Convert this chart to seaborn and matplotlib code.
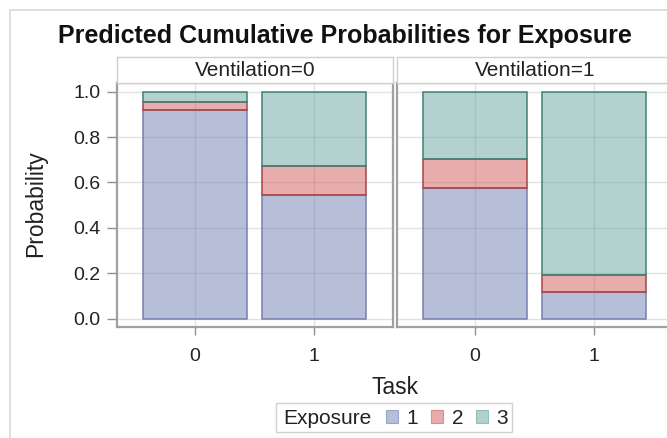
import matplotlib
matplotlib.use("Agg")
import matplotlib.pyplot as plt
from matplotlib.patches import Rectangle, Patch
import seaborn as sns
import pandas as pd
import numpy as np

# ---- data ----
tasks = ["0", "1"]
ventilation_levels = ["Ventilation=0", "Ventilation=1"]
exposure_levels = ["1", "2", "3"]
# cumulative probabilities P(Exposure<=k)
cum1_vent0 = [0.919, 0.546]
cum2_vent0 = [0.954, 0.673]
cum1_vent1 = [0.577, 0.119]
cum2_vent1 = [0.702, 0.193]
cum3_all = [1.0, 1.0]

title = "Predicted Cumulative Probabilities for Exposure"

fill_colors = ["#6F7EB3", "#D05B5B", "#66A5A0"]
edge_colors = ["#7880AE", "#A84444", "#3F8177"]

sns.set_theme(style="white")
plt.rcParams["font.family"] = ["Liberation Sans", "DejaVu Sans"]

W, H = 667, 438
fig = plt.figure(figsize=(W / 100, H / 100), dpi=100)
fig.patch.set_facecolor("white")

def fx(px):
    return px / W

def fy(py):
    return 1 - py / H

# outer border
fig.patches.append(Rectangle((fx(10), fy(470)), fx(700), 460 / H, transform=fig.transFigure,
                             fill=False, edgecolor="#d8d8d8", linewidth=1.2, zorder=0))

panel_left = [117, 397]
panel_w = 276
top_px, bot_px = 83, 327

cums = [(cum1_vent0, cum2_vent0), (cum1_vent1, cum2_vent1)]

axes = []
for i, (c1, c2) in enumerate(cums):
    ax = fig.add_axes([fx(panel_left[i]), fy(bot_px), panel_w / W, (bot_px - top_px) / H])
    axes.append(ax)
    segs = [
        (np.array(c1), np.zeros(2)),
        (np.array(c2) - np.array(c1), np.array(c1)),
        (np.array(cum3_all) - np.array(c2), np.array(c2)),
    ]
    for k, (h, b) in enumerate(segs):
        df = pd.DataFrame({"Task": tasks, "Prob": h})
        n_before = len(ax.patches)
        sns.barplot(data=df, x="Task", y="Prob", order=tasks, ax=ax, width=0.87,
                    color=fill_colors[k], bottom=b, errorbar=None, zorder=2)
        for p in ax.patches[n_before:]:
            p.set_facecolor(matplotlib.colors.to_rgba(fill_colors[k], 0.5))
            p.set_edgecolor(edge_colors[k])
            p.set_linewidth(1.1)
    ax.set_xlim(-0.655, 1.66)
    ax.set_ylim(-0.037, 1.038)
    ax.set_yticks([0.0, 0.2, 0.4, 0.6, 0.8, 1.0])
    ax.set_xticks([0, 1])
    ax.set_xticklabels(tasks)
    ax.set_xlabel("")
    ax.set_ylabel("")
    ax.set_axisbelow(True)
    ax.grid(True, color="#e2e2e2", linewidth=1.0)
    for s in ax.spines.values():
        s.set_visible(True)
        s.set_color("#a0a0a0")
        s.set_linewidth(1.6)
    ax.tick_params(axis="x", bottom=True, length=6, width=1, color="#909090",
                   labelsize=14, labelcolor="#222222", pad=9)
    if i == 0:
        ax.set_yticklabels(["0.0", "0.2", "0.4", "0.6", "0.8", "1.0"])
        ax.tick_params(axis="y", left=True, length=7, width=1, color="#909090",
                       labelsize=14, labelcolor="#222222", pad=5)
    else:
        ax.tick_params(axis="y", left=False, labelleft=False)

    # strip header
    sax = fig.add_axes([fx(panel_left[i]), fy(top_px), panel_w / W, (top_px - 57) / H])
    sax.set_xticks([])
    sax.set_yticks([])
    sax.set_facecolor("white")
    for s in sax.spines.values():
        s.set_color("#cfcfcf")
        s.set_linewidth(1.0)
    sax.text(0.5, 0.5, ventilation_levels[i], ha="center", va="center",
             fontsize=15, color="#222222", transform=sax.transAxes)

fig.text(fx(345), fy(36), title, ha="center", va="center", fontsize=18,
         fontweight="bold", color="#111111")
fig.text(fx(36), fy(204), "Probability", ha="center", va="center", rotation=90,
         fontsize=16.5, color="#222222")
fig.text(fx(395), fy(387), "Task", ha="center", va="center", fontsize=16.5, color="#222222")

# legend
fig.patches.append(Rectangle((fx(276), fy(432)), 236 / W, 29 / H, transform=fig.transFigure,
                             fill=False, edgecolor="#d0d0d0", linewidth=1.0))
fig.text(fx(283), fy(418), "Exposure", ha="left", va="center", fontsize=15, color="#222222")
handles = [Patch(facecolor=matplotlib.colors.to_rgba(fill_colors[k], 0.5),
                 edgecolor=matplotlib.colors.to_rgba(fill_colors[k], 0.6), linewidth=0.8)
           for k in range(3)]
fig.legend(handles, exposure_levels, loc="center", bbox_to_anchor=(fx(447), fy(418)),
           ncol=3, frameon=False, fontsize=15, handlelength=0.6, handleheight=0.6,
           handletextpad=0.4, columnspacing=0.6, borderpad=0.0, labelcolor="#222222")

fig.savefig("out.png", dpi=100, facecolor="white")
